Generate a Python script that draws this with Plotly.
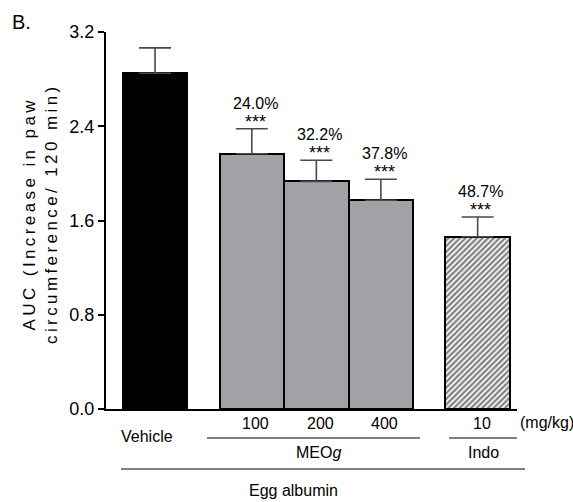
import plotly.graph_objects as go

# ---- data ----
groups = ["Vehicle", "MEOg 100", "MEOg 200", "MEOg 400", "Indo 10"]
xpos = [0, 1.5, 2.5, 3.5, 5]
means = [2.85, 2.166, 1.932, 1.772, 1.462]
sem_up = [0.215, 0.213, 0.18, 0.178, 0.168]
inhibition = ["", "24.0%", "32.2%", "37.8%", "48.7%"]
signif = ["", "***", "***", "***", "***"]
dose_labels = ["100", "200", "400", "10"]
y_ticks = [0.0, 0.8, 1.6, 2.4, 3.2]

W, H = 573, 502
L, R, T, B = 106, 56, 32, 93
XR = [-0.76, 5.61]
YR = [0, 3.2]
PW, PH = W - L - R, H - T - B

def px2paper(px):
    return (px - L) / PW

def x2px(xv):
    return L + (xv - XR[0]) / (XR[1] - XR[0]) * PW

def py2paper(py):
    return (H - B - py) / PH

FONT = "Liberation Sans, Arial"

fig = go.Figure()
err = dict(type="data", symmetric=False, color="#4a4a4a", thickness=1.6, width=16)

def bar(idx, color, pattern=None):
    e = dict(err)
    e["array"] = [sem_up[i] for i in idx]
    e["arrayminus"] = [0 for _ in idx]
    marker = dict(color=color, line=dict(color="black", width=2))
    if pattern:
        marker["pattern"] = pattern
    fig.add_trace(go.Bar(x=[xpos[i] for i in idx], y=[means[i] for i in idx],
                         width=1.0, marker=marker, error_y=e,
                         hoverinfo="skip", showlegend=False))

bar([0], "black")
bar([1, 2, 3], "#a2a1a6")
bar([4], "white", dict(shape="/", fgcolor="black", bgcolor="white",
                       size=4, solidity=0.55, fillmode="overlay"))

ann = []
def txt(px, py, text, size=16, family=FONT, **kw):
    d = dict(x=px2paper(px), y=py2paper(py), xref="paper", yref="paper",
             text=text, showarrow=False, xanchor="center", yanchor="middle",
             font=dict(family=family, size=size, color="black"))
    d.update(kw)
    ann.append(d)

# percentages and stars above error bars
for i in range(1, 5):
    top = means[i] + sem_up[i]
    ann.append(dict(x=xpos[i] + 0.05, y=top, xref="x", yref="y",
                    text=signif[i], showarrow=False, xanchor="center",
                    yanchor="bottom", yshift=-5,
                    font=dict(family=FONT, size=18, color="black")))
    ann.append(dict(x=xpos[i] + 0.05, y=top, xref="x", yref="y",
                    text=inhibition[i], showarrow=False, xanchor="center",
                    yanchor="bottom", yshift=15,
                    font=dict(family=FONT, size=16, color="black")))

# category labels below axis
txt(147, 436, "Vehicle")
for xv, t in zip(xpos[1:], dose_labels):
    txt(x2px(xv) + 4, 423, t)
txt(547, 422, "(mg/kg)")
txt(318, 453, "MEO<i>g</i>")
txt(483, 453, "Indo")
txt(293, 490, "Egg albumin")
# panel label
txt(21, 22, "B.", size=20)
# y title
ts = "\u2009"
line1 = ts.join("AUC (Increase in paw")
line2 = ts.join("circumference/ 120 min)")
txt(41, 216, line1 + "<br>" + line2, size=17, textangle=-90)

shapes = []
for (x0, x1, py) in [(207, 420, 438), (449, 517, 438), (121, 525, 469)]:
    shapes.append(dict(type="line", xref="paper", yref="paper",
                       x0=px2paper(x0), x1=px2paper(x1),
                       y0=py2paper(py), y1=py2paper(py),
                       line=dict(color="#555555", width=1.6)))

fig.update_layout(
    width=W, height=H, margin=dict(l=L, r=R, t=T, b=B, pad=0),
    plot_bgcolor="white", paper_bgcolor="white",
    bargap=0, annotations=ann, shapes=shapes,
    xaxis=dict(range=XR, showline=True, linecolor="black", linewidth=2,
               showticklabels=False, ticks="", showgrid=False, zeroline=False),
    yaxis=dict(range=YR, showline=True, linecolor="black", linewidth=2,
               tickvals=y_ticks, ticktext=[f"{v:.1f}" for v in y_ticks],
               ticks="outside", ticklen=6, tickwidth=2, tickcolor="black",
               tickfont=dict(family=FONT, size=18, color="black"),
               showgrid=False, zeroline=False),
)
fig.write_html("out.html")
